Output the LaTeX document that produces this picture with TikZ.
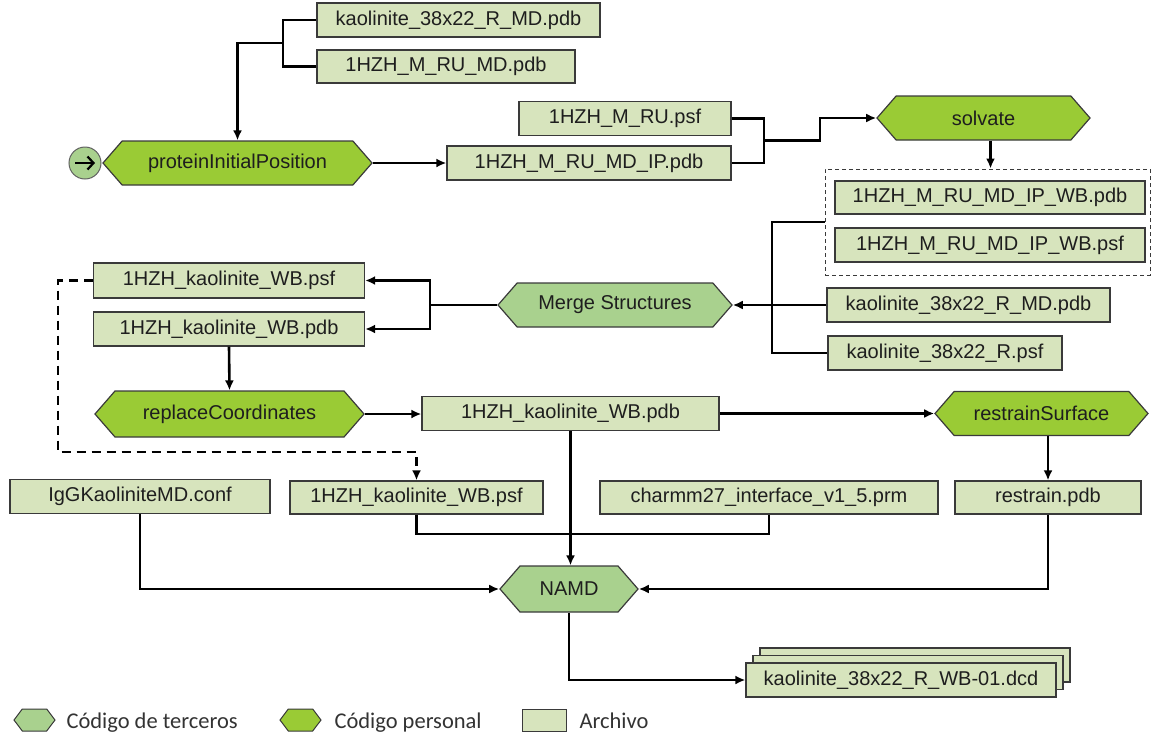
\documentclass[tikz,border=0pt]{standalone}
\usepackage{fontspec}
\setmainfont{Liberation Sans}
\newfontfamily\legfont{Carlito}
\usetikzlibrary{shapes.symbols,arrows.meta}
\definecolor{filefill}{HTML}{D7E4BD}
\definecolor{owncode}{HTML}{9ACB35}
\definecolor{extcode}{HTML}{A9D18E}
\definecolor{edgecol}{HTML}{3A3A3A}
\definecolor{txtcol}{HTML}{1E1E1E}
\tikzset{
  filebox/.style={draw=edgecol, line width=1.3pt, fill=filefill, minimum height=34pt, inner sep=0pt, text=txtcol, font=\fontsize{20}{24}\selectfont},
  hexnode/.style={shape=signal, signal to=east and west, signal pointer angle=98, draw=edgecol, line width=1.2pt, minimum height=44pt, inner sep=0pt, text=txtcol, font=\fontsize{20}{24}\selectfont},
  owncode/.style={hexnode, fill=owncode},
  extcode/.style={hexnode, fill=extcode},
  link/.style={line width=2.6pt, black},
  conn/.style={link, -{Latex[length=10pt,width=9pt]}},
  dashconn/.style={conn, dash pattern=on 9pt off 6pt},
  grpbox/.style={draw=edgecol, line width=1pt, dash pattern=on 4pt off 3pt, inner sep=0pt},
  legtext/.style={anchor=base west, text=black!80, font=\legfont\fontsize{22.5}{26}\selectfont}
}
\begin{document}
\begin{tikzpicture}[x=1pt,y=-1pt]
\useasboundingbox (0,0) rectangle (1153,734);

% group box
\node[grpbox, minimum width=325pt, minimum height=106pt] (grp) at (987.5,222) {};

% file boxes
\node[filebox, minimum width=283pt] (k1) at (458.5,20) {kaolinite\_38x22\_R\_MD.pdb};
\node[filebox, minimum width=258pt, minimum height=33pt] (hm) at (446,66.5) {1HZH\_M\_RU\_MD.pdb};
\node[filebox, minimum width=212pt] (psf1) at (625,118.5) {1HZH\_M\_RU.psf};
\node[filebox, minimum width=284pt] (ip) at (589,163) {1HZH\_M\_RU\_MD\_IP.pdb};
\node[filebox, minimum width=310pt, minimum height=33pt] (wbpdb) at (990,197.5) {1HZH\_M\_RU\_MD\_IP\_WB.pdb};
\node[filebox, minimum width=310pt] (wbpsf) at (990,245) {1HZH\_M\_RU\_MD\_IP\_WB.psf};
\node[filebox, minimum width=283pt] (kmd) at (968.5,305) {kaolinite\_38x22\_R\_MD.pdb};
\node[filebox, minimum width=234pt] (kpsf) at (945,353) {kaolinite\_38x22\_R.psf};
\node[filebox, minimum width=271pt, minimum height=35pt] (hkpsf) at (229,280.5) {1HZH\_kaolinite\_WB.psf};
\node[filebox, minimum width=271pt] (hkpdb) at (229,329) {1HZH\_kaolinite\_WB.pdb};
\node[filebox, minimum width=297pt] (hkpdb2) at (570.5,413.5) {1HZH\_kaolinite\_WB.pdb};
\node[filebox, minimum width=260pt] (conf) at (140,496.5) {IgGKaoliniteMD.conf};
\node[filebox, minimum width=253pt, minimum height=33pt] (hkpsf2) at (416.5,497.5) {1HZH\_kaolinite\_WB.psf};
\node[filebox, minimum width=338pt, minimum height=33pt] (ch) at (769,497.5) {charmm27\_interface\_v1\_5.prm};
\node[filebox, minimum width=186pt, minimum height=33pt] (rp) at (1048,497.5) {restrain.pdb};
\node[filebox, minimum width=310pt] (out3) at (915,665) {};
\node[filebox, minimum width=310pt] (out2) at (908,672.5) {};
\node[filebox, minimum width=310pt] (out) at (901,680) {kaolinite\_38x22\_R\_WB-01.dcd};

% code nodes
\node[owncode, minimum width=269pt] (pip) at (237.5,163) {proteinInitialPosition};
\node[owncode, minimum width=213pt] (solv) at (983.5,118) {solvate};
\node[extcode, minimum width=234pt] (merge) at (615,305) {Merge Structures};
\node[owncode, minimum width=269pt, minimum height=46pt] (repl) at (229.5,414) {replaceCoordinates};
\node[owncode, minimum width=213pt] (rs) at (1041.5,413.5) {restrainSurface};
\node[extcode, minimum width=138pt, minimum height=46pt] (namd) at (569,589) {NAMD};

% start
\node[circle, draw=edgecol!80, line width=1pt, fill=extcode, minimum size=32pt, inner sep=0pt] (st) at (85,163) {};
\draw[line width=2.2pt, -{Straight Barb[length=6pt,width=13pt]}] ([xshift=-10pt]st.center) -- ([xshift=10pt]st.center);

% connectors
\coordinate (b1) at (283,43);
\draw[link] (k1.west) -| (b1);
\draw[link] (hm.west) -| (b1);
\draw[conn] (b1) -| (pip.north);
\draw[conn] (pip.east) -- (ip.west);

\coordinate (b2) at (764,140.5);
\coordinate (b2r) at (820,140.5);
\draw[link] (psf1.east) -| (b2);
\draw[link] (ip.east) -| (b2);
\draw[conn] (b2) -- (b2r) |- (solv.west);
\draw[conn] ([xshift=7pt]solv.south) -- ([xshift=7pt]solv.south |- grp.north);

\coordinate (b3t) at (772,222);
\coordinate (b3b) at (772,353);
\draw[link] (grp.west) -- (b3t) -- (b3b) -- (kpsf.west);
\draw[conn] (kmd.west) -- (merge.east);

\coordinate (b4) at (430,305);
\draw[link] (merge.west) -- (b4);
\draw[conn] (b4) |- (hkpsf.east);
\draw[conn] (b4) |- (hkpdb.east);
\draw[conn] (hkpdb.south) -- (repl.north);

\coordinate (d1) at (58,452);
\draw[dashconn] (hkpsf.west) -| (d1) -| (hkpsf2.north);

\draw[conn] (repl.east) -- (hkpdb2.west |- repl.east);
\draw[conn] (hkpdb2.east) -- (rs.west);
\draw[conn] (hkpdb2.south) -- (hkpdb2.south |- namd.north);
\draw[conn] (rp.north |- rs.south) -- (rp.north);

\coordinate (b5) at (416.5,534);
\draw[link] (hkpsf2.south) -- (b5) -| (ch.south);
\draw[conn] (conf.south) |- (namd.west);
\draw[conn] (rp.south) |- (namd.east);
\draw[conn] (namd.south) |- (out.west);

% legend
\node[extcode, signal pointer angle=106, minimum width=41pt, minimum height=22pt, line width=1pt] (lg1) at (34.5,720) {};
\node[legtext] (lt1) at (63,728) {Código de terceros};
\node[owncode, signal pointer angle=106, minimum width=41pt, minimum height=22pt, line width=1pt] (lg2) at (300.5,720) {};
\node[legtext] (lt2) at (331,728) {Código personal};
\node[filebox, minimum width=44pt, minimum height=22pt, line width=1pt] (lg3) at (544,720) {};
\node[legtext] (lt3) at (576,728) {Archivo};
\end{tikzpicture}
\end{document}
